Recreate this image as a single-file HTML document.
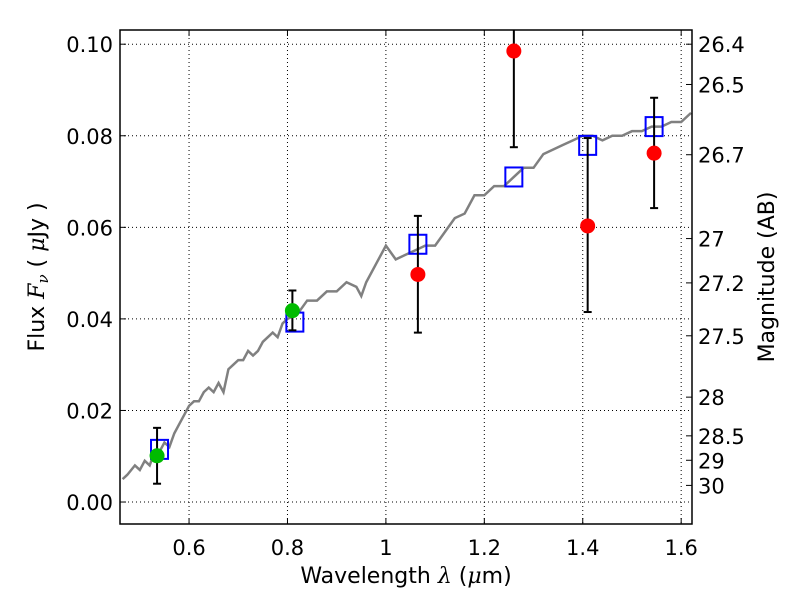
<!DOCTYPE html>
<html><head><meta charset="utf-8"><style>body{margin:0;background:#fff}svg{display:block}</style></head>
<body>
<svg id="chart" width="800" height="600" xmlns="http://www.w3.org/2000/svg" font-family="DejaVu Sans, Liberation Sans, sans-serif"></svg>
<script>
const xTicks=[0.6,0.8,1.0,1.2,1.4,1.6];
const xTickLabels=["0.6","0.8","1","1.2","1.4","1.6"];
const yTicks=[0,0.02,0.04,0.06,0.08,0.10];
const yTickLabels=["0.00","0.02","0.04","0.06","0.08","0.10"];
const magTicks=[26.4,26.5,26.7,27,27.2,27.5,28,28.5,29,30];
const magTickLabels=["26.4","26.5","26.7","27","27.2","27.5","28","28.5","29","30"];
const specX=[0.465,0.475,0.49,0.5,0.51,0.52,0.53,0.54,0.55,0.56,0.57,0.58,0.59,0.6,0.61,0.62,0.63,0.64,0.65,0.66,0.67,0.68,0.69,0.7,0.71,0.72,0.73,0.74,0.75,0.76,0.77,0.78,0.79,0.8,0.82,0.84,0.86,0.88,0.9,0.92,0.94,0.95,0.96,0.98,1.0,1.02,1.04,1.06,1.08,1.1,1.12,1.14,1.16,1.18,1.2,1.22,1.24,1.26,1.28,1.3,1.32,1.34,1.36,1.38,1.4,1.42,1.44,1.46,1.48,1.5,1.52,1.54,1.56,1.58,1.6,1.62];
const specY=[0.005,0.006,0.008,0.007,0.009,0.008,0.011,0.011,0.013,0.012,0.015,0.017,0.019,0.021,0.022,0.022,0.024,0.025,0.024,0.026,0.024,0.029,0.030,0.031,0.031,0.033,0.032,0.033,0.035,0.036,0.037,0.036,0.039,0.040,0.041,0.044,0.044,0.046,0.046,0.048,0.047,0.045,0.048,0.052,0.056,0.053,0.054,0.055,0.056,0.056,0.059,0.062,0.063,0.067,0.067,0.069,0.069,0.071,0.073,0.073,0.076,0.077,0.078,0.079,0.080,0.080,0.079,0.080,0.080,0.081,0.081,0.082,0.082,0.083,0.083,0.085];
const redX=[1.065,1.26,1.41,1.545];
const redY=[0.0497,0.0985,0.0603,0.0762];
const redLo=[0.037,0.0775,0.0415,0.0642];
const redHi=[0.0625,0.105,0.0795,0.0883];
const greenX=[0.535,0.81];
const greenY=[0.0101,0.0418];
const greenLo=[0.0040,0.0375];
const greenHi=[0.0162,0.0462];
const blueX=[0.54,0.815,1.065,1.26,1.41,1.545];
const blueY=[0.0115,0.0393,0.0563,0.0710,0.0779,0.0820];

const L=120,R=692,T=30,B=524;
const XMIN=0.4597,XMAX=1.622,YMIN=-0.0048,YMAX=0.1031;
const sx=v=>L+(v-XMIN)/(XMAX-XMIN)*(R-L);
const sy=v=>B-(v-YMIN)/(YMAX-YMIN)*(B-T);
const magToFlux=m=>Math.pow(10,(23.9-m)/2.5);
const svg=document.getElementById('chart');
const NS='http://www.w3.org/2000/svg';
function mk(tag,attrs,parent){const e=document.createElementNS(NS,tag);for(const k in attrs)e.setAttribute(k,attrs[k]);(parent||svg).appendChild(e);return e;}

const defs=mk('clipPath',{id:'clip'});mk('rect',{x:L,y:T,width:R-L,height:B-T},defs);
const grid=mk('g',{});


xTicks.forEach(v=>mk('line',{x1:sx(v),x2:sx(v),y1:T,y2:B,stroke:'#000','stroke-width':1,'stroke-dasharray':'1,3'},grid));
yTicks.forEach(v=>mk('line',{x1:L,x2:R,y1:sy(v),y2:sy(v),stroke:'#000','stroke-width':1,'stroke-dasharray':'1,3'},grid));

const plot=mk('g',{'clip-path':'url(#clip)'});
const spec=mk('polyline',{points:specX.map((x,i)=>sx(x)+','+sy(specY[i])).join(' '),fill:'none',stroke:'#808080','stroke-width':2.5},plot);


function errs(xs,lo,hi,name){xs.forEach((x,i)=>{const g=mk('g',{stroke:'#000','stroke-width':2},plot);


mk('line',{x1:sx(x),x2:sx(x),y1:sy(lo[i]),y2:sy(hi[i])},g);
mk('line',{x1:sx(x)-4,x2:sx(x)+4,y1:sy(lo[i]),y2:sy(lo[i])},g);
mk('line',{x1:sx(x)-4,x2:sx(x)+4,y1:sy(hi[i]),y2:sy(hi[i])},g);});}
blueX.forEach((x,i)=>{const r=mk('rect',{x:sx(x)-8.5,y:sy(blueY[i])-9.5,width:17,height:19,fill:'none',stroke:'#0000ff','stroke-width':2},plot);

});
errs(redX,redLo,redHi,'red-error-bar');
errs(greenX,greenLo,greenHi,'green-error-bar');
redX.forEach((x,i)=>{const c=mk('circle',{cx:sx(x),cy:sy(redY[i]),r:7.5,fill:'#ff0000'},plot);

});
greenX.forEach((x,i)=>{const c=mk('circle',{cx:sx(x),cy:sy(greenY[i]),r:7.5,fill:'#00bb00'},plot);

});

const frame=mk('rect',{x:L,y:T,width:R-L,height:B-T,fill:'none',stroke:'#000','stroke-width':1.5});


xTicks.forEach((v,i)=>{mk('line',{x1:sx(v),x2:sx(v),y1:B,y2:B-6,stroke:'#000'});mk('line',{x1:sx(v),x2:sx(v),y1:T,y2:T+6,stroke:'#000'});
const t=mk('text',{x:sx(v),y:B+31,'text-anchor':'middle','font-size':21});t.textContent=xTickLabels[i];

});
yTicks.forEach((v,i)=>{mk('line',{x1:L,x2:L+6,y1:sy(v),y2:sy(v),stroke:'#000'});
const t=mk('text',{x:L-7,y:sy(v)+8,'text-anchor':'end','font-size':21});t.textContent=yTickLabels[i];

});
magTicks.forEach((m,i)=>{const y=sy(magToFlux(m));mk('line',{x1:R,x2:R-6,y1:y,y2:y,stroke:'#000'});
const t=mk('text',{x:R+6,y:y+8,'font-size':21});t.textContent=magTickLabels[i];

});
</script>
<svg style="position:absolute;left:0;top:0;white-space:pre" width="800" height="600" font-family="DejaVu Sans, Liberation Sans, sans-serif">
<text x="406" y="583" text-anchor="middle" font-size="22">Wavelength  <tspan font-family="DejaVu Serif, serif" font-style="italic">λ</tspan> (<tspan font-family="DejaVu Serif, serif" font-style="italic">μ</tspan>m)</text>
<text transform="translate(44,277) rotate(-90)" text-anchor="middle" font-size="22">Flux  <tspan font-family="DejaVu Serif, serif" font-style="italic">F<tspan font-size="15" dy="4">ν</tspan></tspan><tspan dy="-4">  (  </tspan><tspan font-family="DejaVu Serif, serif" font-style="italic">μ</tspan>Jy )</text>
<text transform="translate(774,277) rotate(-90)" text-anchor="middle" font-size="22">Magnitude (AB)</text>
</svg>
</body></html>
